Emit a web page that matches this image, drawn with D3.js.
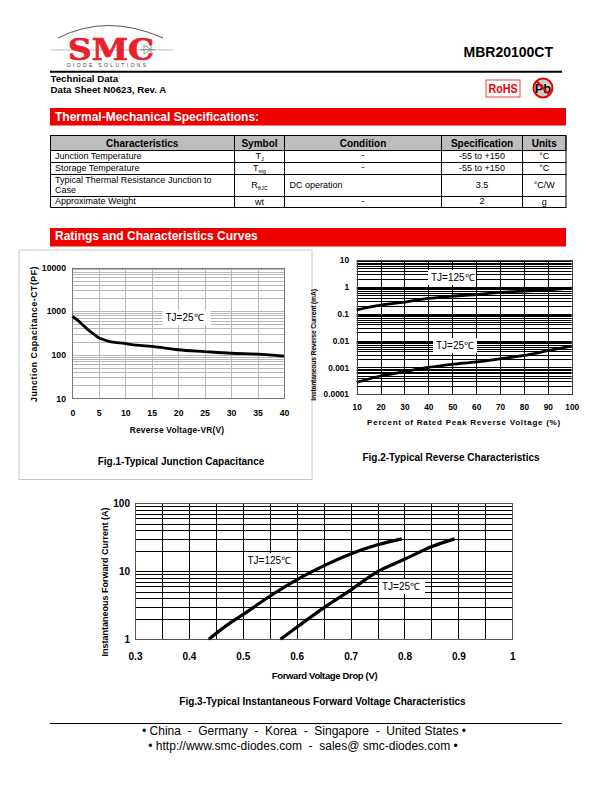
<!DOCTYPE html>
<html>
<head>
<meta http-equiv="content-type" content="text/html; charset=UTF8">
<title>MBR20100CT</title>
<script src="https://cdnjs.cloudflare.com/ajax/libs/d3/7.8.5/d3.min.js"></script>
<style type="text/css">
body { margin: 0; padding: 0; background: #fff; overflow: hidden; }
text { font-family: "Liberation Sans", Arial, sans-serif; fill: #000; }
.axis path { display: none; }
</style>
</head>
<body>
<div id="page"></div>
<script type="text/javascript">

// table
var tableHead = ["Characteristics", "Symbol", "Condition", "Specification", "Units"];
var tableChars = ["Junction Temperature", "Storage Temperature", "Typical Thermal Resistance Junction to|Case", "Approximate Weight"];
var tableSymbols = [["T", "J"], ["T", "stg"], ["R", "θJC"], ["wt", ""]];
var tableConds = ["-", "-", "DC operation", "-"];
var tableSpecs = ["-55 to +150", "-55 to +150", "3.5", "2"];
var tableUnits = ["°C", "°C", "°C/W", "g"];

// fig 1
var capV = [0, 1, 2, 3, 4, 5, 6, 7, 8, 10, 12, 15, 20, 25, 30, 35, 40];
var capC = [750, 620, 480, 370, 300, 245, 220, 200, 192, 180, 165, 155, 130, 118, 108, 103, 93];
var capXTicks = [0, 5, 10, 15, 20, 25, 30, 35, 40];
var capYTicks = [10, 100, 1000, 10000];

// fig 2
var revPct = [10, 20, 30, 40, 50, 60, 70, 80, 90, 100];
var rev125 = [0.14, 0.21, 0.27, 0.37, 0.45, 0.52, 0.62, 0.7, 0.78, 0.9];
var rev25 = [0.00028, 0.00048, 0.0007, 0.001, 0.0013, 0.0016, 0.0021, 0.0028, 0.0042, 0.0062];
var revYTicks = [0.0001, 0.001, 0.01, 0.1, 1, 10];
var revYLabels = ["0.0001", "0.001", "0.01", "0.1", "1", "10"];

// fig 3
var fwd125V = [0.437, 0.47, 0.5, 0.55, 0.6, 0.65, 0.7, 0.75, 0.795];
var fwd125I = [1, 1.6, 2.3, 4.3, 7.5, 12, 18, 24.5, 30];
var fwd25V = [0.57, 0.6, 0.65, 0.7, 0.75, 0.8, 0.85, 0.893];
var fwd25I = [1, 1.5, 2.9, 5.3, 9.9, 15, 23, 30];
var fwdXTicks = [0.3, 0.4, 0.5, 0.6, 0.7, 0.8, 0.9, 1];
var fwdYTicks = [1, 10, 100];

var RED = "#ee0000";

var svg = d3.select("#page").append("svg")
    .attr("width", 612)
    .attr("height", 792)
    .style("display", "block");

function addText(x, y, str, size, opts) {
    opts = opts || {};
    return svg.append("text")
        .attr("x", x)
        .attr("y", y)
        .attr("text-anchor", opts.anchor || "start")
        .attr("font-size", size)
        .attr("font-weight", opts.bold ? "bold" : "normal")
        .attr("letter-spacing", opts.spacing || 0)
        .style("fill", opts.fill || "#000")
        .text(str);
}

function hline(x1, x2, y, w, color) {
    svg.append("line").attr("x1", x1).attr("x2", x2).attr("y1", y).attr("y2", y)
        .attr("stroke", color || "#000").attr("stroke-width", w || 1);
}

/*
* header: logo, part number, rules
*/
svg.append("path").attr("d", "M58 38 Q107 13 163 38").attr("fill", "none").attr("stroke", "#555").attr("stroke-width", 1);
hline(51, 173, 50, 0.8, "#aaa");
addText(68, 60, "SMC", 29, { bold: true, fill: "#e8212b" })
    .style("font-family", '"DejaVu Serif", serif')
    .attr("stroke", "#e8212b").attr("stroke-width", 0.7)
    .attr("textLength", 86).attr("lengthAdjust", "spacingAndGlyphs");
svg.append("path").attr("d", "M144 45 L144 54 L151 49.5 Z M151 45 L151 54 M140 49.5 L155 49.5").attr("fill", "none").attr("stroke", "#888").attr("stroke-width", 0.8);
addText(67, 66.5, "DIODE SOLUTIONS", 5, { spacing: 2.35, fill: "#444" });

addText(553, 57, "MBR20100CT", 14, { anchor: "end", bold: true });
hline(50, 562, 71.7, 2);
addText(50.5, 82, "Technical Data", 9.7, { bold: true });
addText(50.5, 93, "Data Sheet N0623, Rev. A", 9.7, { bold: true });

// rohs and pb marks
svg.append("rect").attr("x", 486).attr("y", 80).attr("width", 34).attr("height", 17)
    .attr("fill", "none").attr("stroke", "#f04040").attr("stroke-width", 1);
addText(488.5, 92.5, "RoHS", 12, { bold: true, fill: RED })
    .attr("textLength", 29).attr("lengthAdjust", "spacingAndGlyphs");
svg.append("circle").attr("cx", 543).attr("cy", 88).attr("r", 9.5)
    .attr("fill", "#ccc").attr("stroke", RED).attr("stroke-width", 2);
addText(543, 93, "Pb", 13, { anchor: "middle", bold: true });
svg.append("line").attr("x1", 536.5).attr("y1", 81).attr("x2", 549.5).attr("y2", 95)
    .attr("stroke", RED).attr("stroke-width", 2);

function redBar(y, h, base, str) {
    svg.append("rect").attr("x", 50).attr("y", y).attr("width", 516).attr("height", h).attr("fill", RED);
    addText(55, base, str, 12, { bold: true, fill: "#fff" });
}
redBar(108, 17.5, 120.5, "Thermal-Mechanical Specifications:");
redBar(228, 18.5, 239.5, "Ratings and Characteristics Curves");

/*
* spec table
*/
var colX = [50, 234.5, 284.5, 441.5, 522.5, 566];
var rowY = [150.5, 162.5, 174.5, 196.5, 207.5];

svg.append("rect").attr("x", 50.5).attr("y", 135.5).attr("width", 515.5).attr("height", 15)
    .attr("fill", "#bdbdbd").attr("stroke", "#000").attr("stroke-width", 1);
tableHead.forEach(function(h, i) {
    addText((colX[i] + colX[i + 1]) / 2, 146.5, h, 10, { anchor: "middle", bold: true });
});
rowY.forEach(function(y) { hline(50.5, 566.5, y, 1); });
colX.forEach(function(x, i) {
    svg.append("line").attr("x1", x + (i === 0 ? 0.5 : 0)).attr("x2", x + (i === 0 ? 0.5 : 0))
        .attr("y1", 135.5).attr("y2", 207.5).attr("stroke", "#000").attr("stroke-width", 1);
});

tableChars.forEach(function(c, r) {
    var mid = (rowY[r] + rowY[r + 1]) / 2 + 2.5;
    var parts = c.split("|");
    if (parts.length > 1) {
        addText(55, rowY[r] + 8.5, parts[0], 9);
        addText(55, rowY[r] + 18.5, parts[1], 9);
    } else {
        addText(55, mid - 0.5, c, 9);
    }
    var sym = addText((colX[1] + colX[2]) / 2, mid, tableSymbols[r][0], 9, { anchor: "middle" });
    sym.append("tspan").attr("font-size", 5.5).attr("dy", 1.5).text(tableSymbols[r][1]);
    if (tableConds[r] === "-") {
        addText((colX[2] + colX[3]) / 2, mid - 1, "-", 9, { anchor: "middle" });
    } else {
        addText(289.5, mid, tableConds[r], 9);
    }
    addText((colX[3] + colX[4]) / 2, mid - (r === 2 ? 0 : 0.5), tableSpecs[r], 9, { anchor: "middle" });
    addText((colX[4] + colX[5]) / 2, mid, tableUnits[r], 9, { anchor: "middle" });
});

/*
* log charts, all use the same helper
*/
function logChart(cfg) {
    var x = d3.scaleLinear().domain(cfg.xDomain).range([cfg.left, cfg.right]);
    var y = d3.scaleLog().domain(cfg.yDomain).range([cfg.bottom, cfg.top]);
    // grid goes on whole pixels so it stays crisp
    var xPix = x.copy().interpolate(d3.interpolateRound);
    var yPix = y.copy().interpolate(d3.interpolateRound);
    var g = svg.append("g").attr("class", "chart");

    // minor + decade horizontal grid
    var yGrid = [];
    var lo = Math.round(Math.log10(cfg.yDomain[0])), hi = Math.round(Math.log10(cfg.yDomain[1]));
    d3.range(lo, hi).forEach(function(e) {
        d3.range(1, 10).forEach(function(m) { yGrid.push(m * Math.pow(10, e)); });
    });
    yGrid.push(cfg.yDomain[1]);

    g.append("g").attr("class", "axis")
        .attr("transform", "translate(" + cfg.left + ",0)")
        .call(d3.axisRight(yPix).tickValues(yGrid).tickSize(cfg.right - cfg.left).tickFormat(""))
        .selectAll("line").attr("stroke", cfg.grid).attr("stroke-width", cfg.gridW);

    g.append("g").attr("class", "axis")
        .attr("transform", "translate(0," + cfg.top + ")")
        .call(d3.axisBottom(xPix).tickValues(cfg.xGrid).tickSize(cfg.bottom - cfg.top).tickFormat(""))
        .selectAll("line").attr("stroke", cfg.grid).attr("stroke-width", cfg.gridW);

    g.append("rect")
        .attr("x", Math.round(cfg.left) + 0.5).attr("y", Math.round(cfg.top) + 0.5)
        .attr("width", Math.round(cfg.right) - Math.round(cfg.left))
        .attr("height", Math.round(cfg.bottom) - Math.round(cfg.top))
        .attr("fill", "none").attr("stroke", cfg.frame).attr("stroke-width", 1);

    // white boxes behind the curve labels
    cfg.notes.forEach(function(n) {
        g.append("rect").attr("x", n.x - 3).attr("y", n.y - 11).attr("width", n.w).attr("height", n.h).attr("fill", "#fff");
    });

    var line = d3.line().curve(d3.curveMonotoneX)
        .x(function(d) { return x(d[0]); })
        .y(function(d) { return y(d[1]); });
    cfg.series.forEach(function(s) {
        g.append("path").datum(s)
            .attr("d", line)
            .attr("fill", "none")
            .attr("stroke", "#000")
            .attr("stroke-width", cfg.lineW);
    });

    cfg.notes.forEach(function(n) {
        addText(n.x, n.y, n.label, 10);
    });

    // tick labels
    var xAxis = svg.append("g").attr("class", "axis")
        .attr("transform", "translate(0," + cfg.xLabelY + ")")
        .call(d3.axisBottom(x).tickValues(cfg.xTicks).tickSize(0).tickPadding(0).tickFormat(d3.format("")));
    xAxis.selectAll("text").attr("font-size", cfg.tickSize).attr("font-weight", "bold")
        .attr("font-family", '"Liberation Sans", Arial, sans-serif').attr("dy", 0).attr("y", 0);

    var yAxis = svg.append("g").attr("class", "axis")
        .attr("transform", "translate(" + cfg.yLabelX + ",0)")
        .call(d3.axisLeft(y).tickValues(cfg.yTicks).tickSize(0).tickPadding(0)
            .tickFormat(function(d, i) { return cfg.yLabels ? cfg.yLabels[i] : d3.format("")(d); }));
    yAxis.selectAll("text").attr("font-size", cfg.tickSize).attr("font-weight", "bold")
        .attr("font-family", '"Liberation Sans", Arial, sans-serif');
}

// panel behind fig 1
svg.append("rect").attr("x", 19).attr("y", 250).attr("width", 293).attr("height", 229.5)
    .attr("fill", "#fff").attr("stroke", "#c8c8c8").attr("stroke-width", 1);

logChart({
    left: 72.3, right: 284, top: 267.5, bottom: 398.3,
    xDomain: [0, 40], yDomain: [10, 10000],
    xGrid: d3.range(0, 41, 5),
    xTicks: capXTicks, yTicks: capYTicks,
    grid: "#b8b8b8", gridW: 1, frame: "#777", lineW: 2.8,
    xLabelY: 416, yLabelX: 66, tickSize: 8.7,
    series: [d3.zip(capV, capC)],
    notes: [{ x: 165.5, y: 321, w: 48, h: 15, label: "TJ=25℃" }]
});

logChart({
    left: 356.7, right: 571.7, top: 260, bottom: 394.3,
    xDomain: [10, 100], yDomain: [0.0001, 10],
    xGrid: revPct,
    xTicks: revPct, yTicks: revYTicks, yLabels: revYLabels,
    grid: "#000", gridW: 1, frame: "#444", lineW: 2.8,
    xLabelY: 410, yLabelX: 349, tickSize: 8.3,
    series: [d3.zip(revPct, rev125), d3.zip(revPct, rev25)],
    notes: [
        { x: 431, y: 281, w: 48, h: 15, label: "TJ=125℃" },
        { x: 436, y: 349, w: 44, h: 15, label: "TJ=25℃" }
    ]
});

logChart({
    left: 135, right: 512.3, top: 503.3, bottom: 639.3,
    xDomain: [0.3, 1], yDomain: [1, 100],
    xGrid: d3.range(6, 21).map(function(d) { return d / 20; }),
    xTicks: fwdXTicks, yTicks: fwdYTicks,
    grid: "#000", gridW: 1, frame: "#555", lineW: 3.2,
    xLabelY: 660, yLabelX: 130, tickSize: 10,
    series: [d3.zip(fwd125V, fwd125I), d3.zip(fwd25V, fwd25I)],
    notes: [
        { x: 247.5, y: 564, w: 48, h: 15, label: "TJ=125℃" },
        { x: 382, y: 590, w: 46, h: 15, label: "TJ=25℃" }
    ]
});

/*
* axis titles + captions
*/
function vTitle(x, y, str, size, opts) {
    addText(0, 0, str, size, opts).attr("transform", "translate(" + x + "," + y + ") rotate(-90)");
}
vTitle(36.5, 334, "Junction Capacitance-CT(PF)", 8.7, { anchor: "middle", bold: true, spacing: 0.55 });
addText(177, 433, "Reverse Voltage-VR(V)", 8.3, { anchor: "middle", bold: true, spacing: 0.25 });
addText(181, 465, "Fig.1-Typical Junction Capacitance", 10, { anchor: "middle", bold: true });

vTitle(316, 345, "Instantaneous Reverse Current (mA)", 6.8, { anchor: "middle", bold: true, spacing: -0.2 });
addText(464, 425, "Percent of Rated Peak Reverse Voltage (%)", 8, { anchor: "middle", bold: true, spacing: 0.75 });
addText(451, 461, "Fig.2-Typical Reverse Characteristics", 10, { anchor: "middle", bold: true });

vTitle(108, 582, "Instantaneous Forward Current (A)", 9, { anchor: "middle", bold: true });
addText(324.5, 679, "Forward Voltage Drop (V)", 9.5, { anchor: "middle", bold: true, spacing: -0.35 });
addText(322.5, 705, "Fig.3-Typical Instantaneous Forward Voltage Characteristics", 10, { anchor: "middle", bold: true });

/*
* footer
*/
hline(50, 562, 723.5, 1);
addText(304, 735, "• China  -  Germany  -  Korea  -  Singapore  -  United States •", 12, { anchor: "middle" }).style("white-space", "pre");
addText(303, 750, "• http://www.smc-diodes.com  -  sales@ smc-diodes.com •", 12, { anchor: "middle" }).style("white-space", "pre");

</script>
</body>
</html>
